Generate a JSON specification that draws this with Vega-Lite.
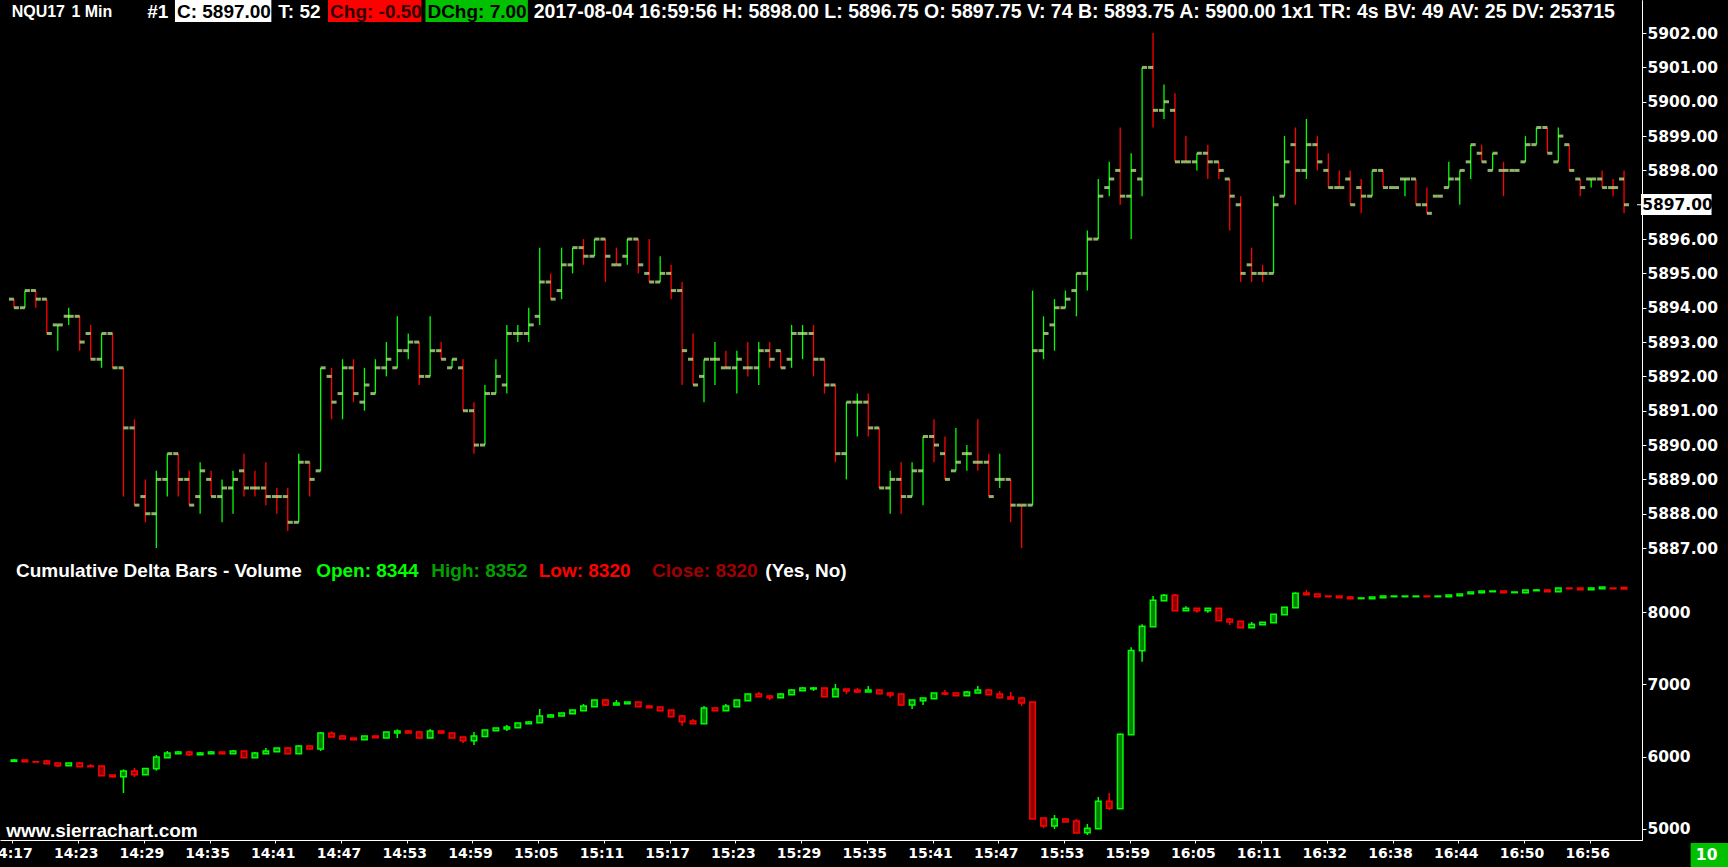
{
"$schema":"https://vega.github.io/schema/vega-lite/v6.json",
"width":1642,"height":840,
"autosize":{"type":"none"},
"padding":{"left":0,"top":0,"right":86,"bottom":27},
"background":"black",
"config":{"view":{"stroke":null},"axis":{"grid":false}},
"data":{"values":[
{"i":0,"t":"14:17","o":5894.25,"h":5894.25,"l":5894,"c":5894,"dir":"dn","dO":5933,"dH":5965,"dL":5933,"dC":5952},
{"i":1,"t":"14:18","o":5894,"h":5894.5,"l":5894,"c":5894.5,"dir":"up","dO":5952,"dH":5952,"dL":5929,"dC":5929},
{"i":2,"t":"14:19","o":5894.5,"h":5894.5,"l":5894,"c":5894.25,"dir":"dn","dO":5929,"dH":5929,"dL":5924,"dC":5924},
{"i":3,"t":"14:20","o":5894.25,"h":5894.25,"l":5893.25,"c":5893.25,"dir":"dn","dO":5938,"dH":5952,"dL":5901,"dC":5901},
{"i":4,"t":"14:21","o":5893.5,"h":5893.5,"l":5892.75,"c":5893.5,"dir":"up","dO":5910,"dH":5910,"dL":5855,"dC":5873},
{"i":5,"t":"14:22","o":5893.75,"h":5894,"l":5893.5,"c":5893.75,"dir":"up","dO":5873,"dH":5910,"dL":5873,"dC":5910},
{"i":6,"t":"14:23","o":5893.75,"h":5893.75,"l":5892.75,"c":5893,"dir":"dn","dO":5910,"dH":5924,"dL":5860,"dC":5860},
{"i":7,"t":"14:24","o":5893.25,"h":5893.5,"l":5892.5,"c":5892.5,"dir":"dn","dO":5869,"dH":5896,"dL":5860,"dC":5860},
{"i":8,"t":"14:25","o":5892.5,"h":5893.25,"l":5892.25,"c":5893.25,"dir":"up","dO":5869,"dH":5869,"dL":5735,"dC":5735},
{"i":9,"t":"14:26","o":5893.25,"h":5893.25,"l":5892.25,"c":5892.25,"dir":"dn","dO":5744,"dH":5744,"dL":5707,"dC":5721},
{"i":10,"t":"14:27","o":5892.25,"h":5892.25,"l":5888.5,"c":5890.5,"dir":"dn","dO":5721,"dH":5823,"dL":5495,"dC":5800},
{"i":11,"t":"14:28","o":5890.5,"h":5890.75,"l":5888.25,"c":5888.25,"dir":"dn","dO":5800,"dH":5841,"dL":5716,"dC":5749},
{"i":12,"t":"14:29","o":5888.5,"h":5889,"l":5887.75,"c":5888,"dir":"dn","dO":5749,"dH":5836,"dL":5749,"dC":5836},
{"i":13,"t":"14:30","o":5888,"h":5889.25,"l":5887,"c":5889,"dir":"up","dO":5832,"dH":6021,"dL":5804,"dC":5994},
{"i":14,"t":"14:31","o":5889,"h":5889.75,"l":5888.5,"c":5889.75,"dir":"up","dO":5985,"dH":6077,"dL":5985,"dC":6049},
{"i":15,"t":"14:32","o":5889.75,"h":5889.75,"l":5888.5,"c":5889,"dir":"dn","dO":6040,"dH":6077,"dL":6040,"dC":6063},
{"i":16,"t":"14:33","o":5889,"h":5889.25,"l":5888.25,"c":5888.25,"dir":"dn","dO":6063,"dH":6077,"dL":6007,"dC":6026},
{"i":17,"t":"14:34","o":5888.5,"h":5889.5,"l":5888,"c":5889.25,"dir":"up","dO":6026,"dH":6063,"dL":6026,"dC":6049},
{"i":18,"t":"14:35","o":5889,"h":5889.25,"l":5888.5,"c":5888.5,"dir":"dn","dO":6040,"dH":6077,"dL":6040,"dC":6063},
{"i":19,"t":"14:36","o":5888.5,"h":5889,"l":5887.75,"c":5888.75,"dir":"up","dO":6063,"dH":6063,"dL":6040,"dC":6040},
{"i":20,"t":"14:37","o":5888.75,"h":5889.25,"l":5888,"c":5889,"dir":"up","dO":6040,"dH":6091,"dL":6040,"dC":6077},
{"i":21,"t":"14:38","o":5889.25,"h":5889.75,"l":5888.5,"c":5888.75,"dir":"dn","dO":6077,"dH":6077,"dL":5985,"dC":5985},
{"i":22,"t":"14:39","o":5888.75,"h":5889.25,"l":5888.5,"c":5888.75,"dir":"dn","dO":5985,"dH":6063,"dL":5985,"dC":6049},
{"i":23,"t":"14:40","o":5888.75,"h":5889.5,"l":5888.25,"c":5888.5,"dir":"dn","dO":6040,"dH":6118,"dL":6040,"dC":6077},
{"i":24,"t":"14:41","o":5888.5,"h":5888.75,"l":5888,"c":5888.5,"dir":"dn","dO":6068,"dH":6118,"dL":6068,"dC":6118},
{"i":25,"t":"14:42","o":5888.5,"h":5888.75,"l":5887.5,"c":5887.75,"dir":"dn","dO":6118,"dH":6132,"dL":6040,"dC":6040},
{"i":26,"t":"14:43","o":5887.75,"h":5889.75,"l":5887.75,"c":5889.5,"dir":"up","dO":6040,"dH":6160,"dL":6040,"dC":6146},
{"i":27,"t":"14:44","o":5889.5,"h":5889.5,"l":5888.5,"c":5889,"dir":"dn","dO":6146,"dH":6160,"dL":6104,"dC":6104},
{"i":28,"t":"14:45","o":5889.25,"h":5892.25,"l":5889.25,"c":5892.25,"dir":"up","dO":6104,"dH":6340,"dL":6077,"dC":6326},
{"i":29,"t":"14:46","o":5892,"h":5892.25,"l":5890.75,"c":5891.25,"dir":"dn","dO":6322,"dH":6349,"dL":6271,"dC":6271},
{"i":30,"t":"14:47","o":5891.5,"h":5892.5,"l":5890.75,"c":5892.25,"dir":"up","dO":6285,"dH":6298,"dL":6243,"dC":6243},
{"i":31,"t":"14:48","o":5892.25,"h":5892.5,"l":5891.25,"c":5891.5,"dir":"dn","dO":6257,"dH":6257,"dL":6234,"dC":6234},
{"i":32,"t":"14:49","o":5891.25,"h":5892.25,"l":5891,"c":5891.75,"dir":"up","dO":6234,"dH":6285,"dL":6234,"dC":6285},
{"i":33,"t":"14:50","o":5891.5,"h":5892.5,"l":5891.5,"c":5892.25,"dir":"up","dO":6285,"dH":6285,"dL":6261,"dC":6261},
{"i":34,"t":"14:51","o":5892.25,"h":5893,"l":5892,"c":5892.5,"dir":"up","dO":6257,"dH":6340,"dL":6257,"dC":6340},
{"i":35,"t":"14:52","o":5892.25,"h":5893.75,"l":5892.25,"c":5892.75,"dir":"up","dO":6326,"dH":6377,"dL":6257,"dC":6354},
{"i":36,"t":"14:53","o":5892.75,"h":5893.25,"l":5892.5,"c":5893,"dir":"up","dO":6354,"dH":6368,"dL":6326,"dC":6326},
{"i":37,"t":"14:54","o":5893,"h":5893,"l":5891.75,"c":5892,"dir":"dn","dO":6340,"dH":6354,"dL":6257,"dC":6257},
{"i":38,"t":"14:55","o":5892,"h":5893.75,"l":5892,"c":5892.75,"dir":"up","dO":6257,"dH":6382,"dL":6257,"dC":6354},
{"i":39,"t":"14:56","o":5892.75,"h":5893,"l":5892.5,"c":5892.5,"dir":"dn","dO":6354,"dH":6354,"dL":6312,"dC":6326},
{"i":40,"t":"14:57","o":5892.25,"h":5892.5,"l":5892.25,"c":5892.5,"dir":"up","dO":6326,"dH":6326,"dL":6257,"dC":6257},
{"i":41,"t":"14:58","o":5892.25,"h":5892.5,"l":5891,"c":5891,"dir":"dn","dO":6271,"dH":6271,"dL":6188,"dC":6220},
{"i":42,"t":"14:59","o":5891,"h":5891.25,"l":5889.75,"c":5890,"dir":"dn","dO":6220,"dH":6340,"dL":6160,"dC":6285},
{"i":43,"t":"15:00","o":5890,"h":5891.75,"l":5890,"c":5891.5,"dir":"up","dO":6276,"dH":6368,"dL":6276,"dC":6368},
{"i":44,"t":"15:01","o":5891.5,"h":5892.5,"l":5891.5,"c":5892,"dir":"up","dO":6359,"dH":6395,"dL":6359,"dC":6395},
{"i":45,"t":"15:02","o":5891.75,"h":5893.5,"l":5891.5,"c":5893.25,"dir":"up","dO":6382,"dH":6437,"dL":6354,"dC":6409},
{"i":46,"t":"15:03","o":5893.25,"h":5893.5,"l":5893,"c":5893.25,"dir":"up","dO":6400,"dH":6465,"dL":6400,"dC":6465},
{"i":47,"t":"15:04","o":5893.25,"h":5894,"l":5893,"c":5893.5,"dir":"up","dO":6456,"dH":6492,"dL":6456,"dC":6479},
{"i":48,"t":"15:05","o":5893.75,"h":5895.75,"l":5893.5,"c":5894.75,"dir":"up","dO":6469,"dH":6659,"dL":6469,"dC":6562},
{"i":49,"t":"15:06","o":5894.75,"h":5895,"l":5894.25,"c":5894.25,"dir":"dn","dO":6548,"dH":6590,"dL":6548,"dC":6576},
{"i":50,"t":"15:07","o":5894.5,"h":5895.75,"l":5894.25,"c":5895.25,"dir":"up","dO":6562,"dH":6604,"dL":6562,"dC":6604},
{"i":51,"t":"15:08","o":5895.25,"h":5895.75,"l":5895,"c":5895.75,"dir":"up","dO":6594,"dH":6645,"dL":6594,"dC":6645},
{"i":52,"t":"15:09","o":5895.75,"h":5896,"l":5895.25,"c":5895.5,"dir":"dn","dO":6636,"dH":6728,"dL":6636,"dC":6700},
{"i":53,"t":"15:10","o":5895.5,"h":5896,"l":5895.5,"c":5896,"dir":"up","dO":6691,"dH":6783,"dL":6691,"dC":6783},
{"i":54,"t":"15:11","o":5896,"h":5896,"l":5894.75,"c":5895.5,"dir":"dn","dO":6783,"dH":6797,"dL":6700,"dC":6714},
{"i":55,"t":"15:12","o":5895.25,"h":5895.75,"l":5895.25,"c":5895.25,"dir":"dn","dO":6714,"dH":6783,"dL":6714,"dC":6742},
{"i":56,"t":"15:13","o":5895.5,"h":5896,"l":5895.25,"c":5896,"dir":"up","dO":6733,"dH":6756,"dL":6733,"dC":6756},
{"i":57,"t":"15:14","o":5896,"h":5896,"l":5895,"c":5895.25,"dir":"dn","dO":6756,"dH":6756,"dL":6691,"dC":6691},
{"i":58,"t":"15:15","o":5895,"h":5896,"l":5894.75,"c":5894.75,"dir":"dn","dO":6700,"dH":6714,"dL":6677,"dC":6677},
{"i":59,"t":"15:16","o":5894.75,"h":5895.5,"l":5894.75,"c":5895,"dir":"up","dO":6686,"dH":6686,"dL":6636,"dC":6636},
{"i":60,"t":"15:17","o":5895,"h":5895.25,"l":5894.25,"c":5894.5,"dir":"dn","dO":6645,"dH":6645,"dL":6553,"dC":6553},
{"i":61,"t":"15:18","o":5894.5,"h":5894.75,"l":5891.75,"c":5892.75,"dir":"dn","dO":6562,"dH":6576,"dL":6428,"dC":6483},
{"i":62,"t":"15:19","o":5892.5,"h":5893.25,"l":5891.75,"c":5891.75,"dir":"dn","dO":6492,"dH":6520,"dL":6456,"dC":6456},
{"i":63,"t":"15:20","o":5892,"h":5892.5,"l":5891.25,"c":5892.5,"dir":"up","dO":6456,"dH":6700,"dL":6456,"dC":6673},
{"i":64,"t":"15:21","o":5892.5,"h":5893,"l":5891.75,"c":5892.5,"dir":"up","dO":6673,"dH":6673,"dL":6636,"dC":6636},
{"i":65,"t":"15:22","o":5892.25,"h":5892.75,"l":5892.25,"c":5892.25,"dir":"dn","dO":6636,"dH":6728,"dL":6636,"dC":6700},
{"i":66,"t":"15:23","o":5892.25,"h":5892.75,"l":5891.5,"c":5892.5,"dir":"up","dO":6691,"dH":6783,"dL":6691,"dC":6783},
{"i":67,"t":"15:24","o":5892.25,"h":5893,"l":5892,"c":5892.25,"dir":"dn","dO":6774,"dH":6866,"dL":6774,"dC":6866},
{"i":68,"t":"15:25","o":5892.25,"h":5893,"l":5891.75,"c":5892.75,"dir":"up","dO":6866,"dH":6894,"dL":6829,"dC":6829},
{"i":69,"t":"15:26","o":5892.75,"h":5893,"l":5892.25,"c":5892.5,"dir":"dn","dO":6839,"dH":6853,"dL":6783,"dC":6816},
{"i":70,"t":"15:27","o":5892.75,"h":5892.75,"l":5892.25,"c":5892.25,"dir":"dn","dO":6816,"dH":6880,"dL":6816,"dC":6866},
{"i":71,"t":"15:28","o":5892.5,"h":5893.5,"l":5892.25,"c":5893.25,"dir":"up","dO":6857,"dH":6936,"dL":6857,"dC":6922},
{"i":72,"t":"15:29","o":5893.25,"h":5893.5,"l":5892.5,"c":5893.25,"dir":"up","dO":6913,"dH":6964,"dL":6913,"dC":6950},
{"i":73,"t":"15:30","o":5893.25,"h":5893.5,"l":5892,"c":5892.5,"dir":"dn","dO":6936,"dH":6964,"dL":6908,"dC":6950},
{"i":74,"t":"15:31","o":5892.5,"h":5892.5,"l":5891.5,"c":5891.75,"dir":"dn","dO":6950,"dH":6950,"dL":6829,"dC":6829},
{"i":75,"t":"15:32","o":5891.75,"h":5891.75,"l":5889.5,"c":5889.75,"dir":"dn","dO":6829,"dH":7005,"dL":6829,"dC":6936},
{"i":76,"t":"15:33","o":5889.75,"h":5891.25,"l":5889,"c":5891.25,"dir":"up","dO":6936,"dH":6936,"dL":6867,"dC":6908},
{"i":77,"t":"15:34","o":5891.25,"h":5891.5,"l":5890.25,"c":5891.25,"dir":"up","dO":6922,"dH":6950,"dL":6880,"dC":6894},
{"i":78,"t":"15:35","o":5891.25,"h":5891.5,"l":5890.25,"c":5890.5,"dir":"dn","dO":6894,"dH":6977,"dL":6894,"dC":6922},
{"i":79,"t":"15:36","o":5890.5,"h":5890.5,"l":5888.75,"c":5888.75,"dir":"dn","dO":6922,"dH":6936,"dL":6871,"dC":6871},
{"i":80,"t":"15:37","o":5888.75,"h":5889.25,"l":5888,"c":5889,"dir":"up","dO":6880,"dH":6894,"dL":6816,"dC":6853},
{"i":81,"t":"15:38","o":5889,"h":5889.5,"l":5888,"c":5888.5,"dir":"dn","dO":6866,"dH":6866,"dL":6700,"dC":6714},
{"i":82,"t":"15:39","o":5888.5,"h":5889.5,"l":5888.5,"c":5889.25,"dir":"up","dO":6714,"dH":6783,"dL":6659,"dC":6783},
{"i":83,"t":"15:40","o":5889.25,"h":5890.25,"l":5888.25,"c":5890.25,"dir":"up","dO":6774,"dH":6811,"dL":6714,"dC":6811},
{"i":84,"t":"15:41","o":5890.25,"h":5890.75,"l":5889.5,"c":5890,"dir":"dn","dO":6802,"dH":6880,"dL":6802,"dC":6880},
{"i":85,"t":"15:42","o":5889.75,"h":5890.25,"l":5889,"c":5889,"dir":"dn","dO":6880,"dH":6922,"dL":6853,"dC":6866},
{"i":86,"t":"15:43","o":5889.25,"h":5890.5,"l":5889.25,"c":5889.5,"dir":"up","dO":6880,"dH":6880,"dL":6843,"dC":6843},
{"i":87,"t":"15:44","o":5889.75,"h":5890,"l":5889.25,"c":5889.75,"dir":"up","dO":6843,"dH":6908,"dL":6843,"dC":6894},
{"i":88,"t":"15:45","o":5889.5,"h":5890.75,"l":5889.25,"c":5889.5,"dir":"dn","dO":6880,"dH":6977,"dL":6880,"dC":6922},
{"i":89,"t":"15:46","o":5889.5,"h":5889.75,"l":5888.5,"c":5888.5,"dir":"dn","dO":6922,"dH":6936,"dL":6857,"dC":6857},
{"i":90,"t":"15:47","o":5889,"h":5889.75,"l":5888.75,"c":5889,"dir":"up","dO":6866,"dH":6908,"dL":6816,"dC":6816},
{"i":91,"t":"15:48","o":5889,"h":5889,"l":5887.75,"c":5888.25,"dir":"dn","dO":6825,"dH":6894,"dL":6797,"dC":6797},
{"i":92,"t":"15:49","o":5888.25,"h":5888.25,"l":5887,"c":5888.25,"dir":"dn","dO":6811,"dH":6825,"dL":6700,"dC":6742},
{"i":93,"t":"15:50","o":5888.25,"h":5894.5,"l":5888.25,"c":5892.75,"dir":"up","dO":6756,"dH":6756,"dL":5134,"dC":5134},
{"i":94,"t":"15:51","o":5892.75,"h":5893.75,"l":5892.5,"c":5893.25,"dir":"up","dO":5148,"dH":5148,"dL":5010,"dC":5037},
{"i":95,"t":"15:52","o":5893.5,"h":5894.25,"l":5892.75,"c":5894,"dir":"up","dO":5037,"dH":5190,"dL":4996,"dC":5134},
{"i":96,"t":"15:53","o":5894,"h":5894.5,"l":5894,"c":5894.25,"dir":"up","dO":5134,"dH":5148,"dL":5093,"dC":5093},
{"i":97,"t":"15:54","o":5894.5,"h":5895,"l":5893.75,"c":5895,"dir":"up","dO":5107,"dH":5134,"dL":4940,"dC":4940},
{"i":98,"t":"15:55","o":5895,"h":5896.25,"l":5894.5,"c":5896,"dir":"up","dO":4945,"dH":5065,"dL":4913,"dC":5005},
{"i":99,"t":"15:56","o":5896,"h":5897.75,"l":5896,"c":5897.25,"dir":"up","dO":5000,"dH":5439,"dL":5000,"dC":5379},
{"i":100,"t":"15:57","o":5897.5,"h":5898.25,"l":5897.25,"c":5897.75,"dir":"up","dO":5379,"dH":5495,"dL":5259,"dC":5282},
{"i":101,"t":"15:58","o":5898,"h":5899.25,"l":5897,"c":5897.25,"dir":"dn","dO":5277,"dH":6321,"dL":5277,"dC":6308},
{"i":102,"t":"15:59","o":5897.25,"h":5898.5,"l":5896,"c":5898,"dir":"up","dO":6303,"dH":7513,"dL":6303,"dC":7471},
{"i":103,"t":"16:00","o":5897.75,"h":5901,"l":5897.25,"c":5901,"dir":"up","dO":7467,"dH":7832,"dL":7314,"dC":7804},
{"i":104,"t":"16:01","o":5901,"h":5902,"l":5899.25,"c":5899.75,"dir":"dn","dO":7800,"dH":8224,"dL":7800,"dC":8164},
{"i":105,"t":"16:02","o":5899.75,"h":5900.5,"l":5899.5,"c":5900,"dir":"up","dO":8160,"dH":8252,"dL":8160,"dC":8234},
{"i":106,"t":"16:03","o":5899.75,"h":5900.25,"l":5898.25,"c":5898.25,"dir":"dn","dO":8234,"dH":8252,"dL":8021,"dC":8021},
{"i":107,"t":"16:04","o":5898.25,"h":5899,"l":5898.25,"c":5898.25,"dir":"dn","dO":8021,"dH":8081,"dL":8021,"dC":8054},
{"i":108,"t":"16:05","o":5898.25,"h":5898.5,"l":5898,"c":5898.5,"dir":"up","dO":8054,"dH":8054,"dL":7993,"dC":8021},
{"i":109,"t":"16:06","o":5898.5,"h":5898.75,"l":5897.75,"c":5898.25,"dir":"dn","dO":8021,"dH":8054,"dL":7993,"dC":8054},
{"i":110,"t":"16:07","o":5898.25,"h":5898.25,"l":5897.75,"c":5898,"dir":"dn","dO":8054,"dH":8054,"dL":7883,"dC":7883},
{"i":111,"t":"16:08","o":5897.75,"h":5897.75,"l":5896.25,"c":5897.25,"dir":"dn","dO":7901,"dH":7920,"dL":7822,"dC":7864},
{"i":112,"t":"16:09","o":5897,"h":5897.25,"l":5894.75,"c":5895,"dir":"dn","dO":7873,"dH":7873,"dL":7786,"dC":7786},
{"i":113,"t":"16:10","o":5895.25,"h":5895.75,"l":5894.75,"c":5895,"dir":"dn","dO":7786,"dH":7864,"dL":7786,"dC":7832},
{"i":114,"t":"16:11","o":5895,"h":5895.25,"l":5894.75,"c":5895,"dir":"dn","dO":7827,"dH":7860,"dL":7827,"dC":7860},
{"i":115,"t":"16:12","o":5895,"h":5897.25,"l":5895,"c":5897,"dir":"up","dO":7855,"dH":7970,"dL":7855,"dC":7970},
{"i":116,"t":"16:13","o":5897.25,"h":5899,"l":5897.25,"c":5898.25,"dir":"up","dO":7965,"dH":8067,"dL":7965,"dC":8067},
{"i":117,"t":"16:14","o":5898.75,"h":5899.25,"l":5897,"c":5898,"dir":"dn","dO":8063,"dH":8275,"dL":8063,"dC":8261},
{"i":118,"t":"16:30","o":5898,"h":5899.5,"l":5897.75,"c":5898.75,"dir":"up","dO":8266,"dH":8308,"dL":8243,"dC":8243},
{"i":119,"t":"16:31","o":5898.75,"h":5899,"l":5898,"c":5898.25,"dir":"dn","dO":8252,"dH":8252,"dL":8215,"dC":8215},
{"i":120,"t":"16:32","o":5898,"h":5898.5,"l":5897.5,"c":5897.5,"dir":"dn","dO":8224,"dH":8224,"dL":8215,"dC":8215},
{"i":121,"t":"16:33","o":5897.5,"h":5898,"l":5897.5,"c":5897.5,"dir":"dn","dO":8224,"dH":8224,"dL":8201,"dC":8201},
{"i":122,"t":"16:34","o":5897.75,"h":5898,"l":5897,"c":5897,"dir":"dn","dO":8211,"dH":8224,"dL":8188,"dC":8188},
{"i":123,"t":"16:35","o":5897.5,"h":5897.75,"l":5896.75,"c":5897.25,"dir":"dn","dO":8188,"dH":8197,"dL":8188,"dC":8197},
{"i":124,"t":"16:36","o":5897.25,"h":5898,"l":5897.25,"c":5898,"dir":"up","dO":8188,"dH":8211,"dL":8188,"dC":8211},
{"i":125,"t":"16:37","o":5898,"h":5898,"l":5897.5,"c":5897.5,"dir":"dn","dO":8201,"dH":8224,"dL":8201,"dC":8224},
{"i":126,"t":"16:38","o":5897.5,"h":5897.5,"l":5897.5,"c":5897.5,"dir":"dn","dO":8215,"dH":8224,"dL":8215,"dC":8224},
{"i":127,"t":"16:39","o":5897.75,"h":5897.75,"l":5897.25,"c":5897.75,"dir":"up","dO":8215,"dH":8224,"dL":8215,"dC":8224},
{"i":128,"t":"16:40","o":5897.75,"h":5897.75,"l":5897,"c":5897,"dir":"dn","dO":8215,"dH":8224,"dL":8215,"dC":8224},
{"i":129,"t":"16:41","o":5897,"h":5897.5,"l":5896.75,"c":5896.75,"dir":"dn","dO":8224,"dH":8224,"dL":8215,"dC":8215},
{"i":130,"t":"16:42","o":5897.25,"h":5897.25,"l":5897.25,"c":5897.25,"dir":"up","dO":8215,"dH":8224,"dL":8215,"dC":8224},
{"i":131,"t":"16:43","o":5897.5,"h":5898.25,"l":5897.5,"c":5897.75,"dir":"up","dO":8215,"dH":8238,"dL":8215,"dC":8238},
{"i":132,"t":"16:44","o":5897.75,"h":5898,"l":5897,"c":5898,"dir":"up","dO":8229,"dH":8252,"dL":8229,"dC":8252},
{"i":133,"t":"16:45","o":5898.25,"h":5898.75,"l":5897.75,"c":5898.75,"dir":"up","dO":8257,"dH":8280,"dL":8257,"dC":8280},
{"i":134,"t":"16:46","o":5898.5,"h":5898.75,"l":5898.25,"c":5898.25,"dir":"dn","dO":8271,"dH":8294,"dL":8271,"dC":8294},
{"i":135,"t":"16:47","o":5898,"h":5898.5,"l":5898,"c":5898.5,"dir":"up","dO":8284,"dH":8294,"dL":8284,"dC":8294},
{"i":136,"t":"16:48","o":5898,"h":5898.25,"l":5897.25,"c":5898,"dir":"dn","dO":8294,"dH":8294,"dL":8271,"dC":8271},
{"i":137,"t":"16:49","o":5898,"h":5898,"l":5898,"c":5898,"dir":"dn","dO":8271,"dH":8280,"dL":8271,"dC":8280},
{"i":138,"t":"16:50","o":5898.25,"h":5899,"l":5898.25,"c":5898.75,"dir":"up","dO":8271,"dH":8308,"dL":8271,"dC":8308},
{"i":139,"t":"16:51","o":5898.75,"h":5899.25,"l":5898.75,"c":5899.25,"dir":"up","dO":8298,"dH":8321,"dL":8298,"dC":8308},
{"i":140,"t":"16:52","o":5899.25,"h":5899.25,"l":5898.5,"c":5898.5,"dir":"dn","dO":8308,"dH":8321,"dL":8284,"dC":8284},
{"i":141,"t":"16:53","o":5898.25,"h":5899.25,"l":5898.25,"c":5899,"dir":"up","dO":8284,"dH":8335,"dL":8284,"dC":8335},
{"i":142,"t":"16:54","o":5898.75,"h":5898.75,"l":5898,"c":5898,"dir":"dn","dO":8335,"dH":8335,"dL":8326,"dC":8326},
{"i":143,"t":"16:55","o":5897.75,"h":5897.75,"l":5897.25,"c":5897.5,"dir":"dn","dO":8335,"dH":8335,"dL":8312,"dC":8312},
{"i":144,"t":"16:56","o":5897.75,"h":5897.75,"l":5897.5,"c":5897.75,"dir":"up","dO":8312,"dH":8335,"dL":8312,"dC":8335},
{"i":145,"t":"16:57","o":5897.75,"h":5898,"l":5897.5,"c":5897.5,"dir":"dn","dO":8326,"dH":8349,"dL":8326,"dC":8349},
{"i":146,"t":"16:58","o":5897.5,"h":5897.75,"l":5897.25,"c":5897.5,"dir":"dn","dO":8335,"dH":8335,"dL":8326,"dC":8326},
{"i":147,"t":"16:59","o":5897.75,"h":5898,"l":5896.75,"c":5897,"dir":"dn","dO":8344,"dH":8352,"dL":8320,"dC":8320}
]},
"layer":[
{"layer":[
 {"mark":{"type":"rule","strokeWidth":1.3},
  "encoding":{
   "x":{"field":"i","type":"quantitative","scale":{"domain":[-0.817,148.183],"nice":false,"zero":false},
        "axis":{"orient":"bottom","title":null,"values":[0,6,12,18,24,30,36,42,48,54,60,66,72,78,84,90,96,102,108,114,120,126,132,138,144],
        "labelExpr":"floor(((datum.value < 118 ? 857 : 872) + datum.value) / 60) + ':' + ((((datum.value < 118 ? 857 : 872) + datum.value) % 60) < 10 ? '0' : '') + (((datum.value < 118 ? 857 : 872) + datum.value) % 60)",
        "labelFlush":false,"labelBound":false,"labelOverlap":false,"labelColor":"white","labelFont":"DejaVu Sans","labelFontWeight":"bold","labelFontSize":14,"labelPadding":3,"labelOffset":-2.5,"tickOffset":-1.5,
        "tickColor":"white","tickSize":3,"domainColor":"white","domainWidth":1,"zindex":0}},
   "y":{"field":"l","type":"quantitative","scale":{"domain":[5878.496,5902.964],"nice":false,"zero":false},
        "axis":{"orient":"right","title":null,"values":[5887,5888,5889,5890,5891,5892,5893,5894,5895,5896,5898,5899,5900,5901,5902],"format":".2f",
        "labelOverlap":false,"labelColor":"white","labelFont":"DejaVu Sans","labelFontWeight":"bold","labelFontSize":15.5,"labelPadding":1,
        "tickColor":"white","tickSize":4,"domainColor":"white","domainWidth":1,"zindex":0}},
   "y2":{"field":"h"},
   "color":{"condition":{"test":"datum.dir == 'up'","value":"#00ff00"},"value":"#ff0000"}}},
 {"mark":{"type":"tick","orient":"horizontal","size":5,"thickness":3,"xOffset":-2.5,"color":"#ccff99"},
  "encoding":{"x":{"field":"i","type":"quantitative"},"y":{"field":"o","type":"quantitative"}}},
 {"mark":{"type":"tick","orient":"horizontal","size":5,"thickness":3,"xOffset":2.5,"color":"#ccff99"},
  "encoding":{"x":{"field":"i","type":"quantitative"},"y":{"field":"c","type":"quantitative"}}},
 {"data":{"values":[{}]},"mark":{"type":"rect","color":"white"},
  "encoding":{"x":{"datum":14.70,"type":"quantitative"},"x2":{"datum":23.50},"y":{"datum":5902.964,"type":"quantitative"},"y2":{"datum":5902.323}}},
 {"data":{"values":[{}]},"mark":{"type":"rect","color":"#ff0000"},
  "encoding":{"x":{"datum":28.67,"type":"quantitative"},"x2":{"datum":37.20},"y":{"datum":5902.964,"type":"quantitative"},"y2":{"datum":5902.323}}},
 {"data":{"values":[{}]},"mark":{"type":"rect","color":"#00c000"},
  "encoding":{"x":{"datum":37.57,"type":"quantitative"},"x2":{"datum":46.92},"y":{"datum":5902.964,"type":"quantitative"},"y2":{"datum":5902.323}}},
 {"data":{"values":[{}]},"mark":{"type":"text","text":"NQU17","align":"left","baseline":"middle","font":"Liberation Sans","fontWeight":"bold","fontSize":16,"color":"white"},
  "encoding":{"x":{"datum":-0.209,"type":"quantitative"},"y":{"datum":5902.62,"type":"quantitative"}}},
 {"data":{"values":[{}]},"mark":{"type":"text","text":"1 Min","align":"left","baseline":"middle","font":"Liberation Sans","fontWeight":"bold","fontSize":16,"color":"white"},
  "encoding":{"x":{"datum":5.25,"type":"quantitative"},"y":{"datum":5902.62,"type":"quantitative"}}},
 {"data":{"values":[{}]},"mark":{"type":"text","text":"#1","align":"left","baseline":"middle","font":"Liberation Sans","fontWeight":"bold","fontSize":19,"color":"white"},
  "encoding":{"x":{"datum":12.159,"type":"quantitative"},"y":{"datum":5902.62,"type":"quantitative"}}},
 {"data":{"values":[{}]},"mark":{"type":"text","text":"C: 5897.00","align":"left","baseline":"middle","font":"Liberation Sans","fontWeight":"bold","fontSize":19,"color":"black"},
  "encoding":{"x":{"datum":14.88,"type":"quantitative"},"y":{"datum":5902.62,"type":"quantitative"}}},
 {"data":{"values":[{}]},"mark":{"type":"text","text":"T: 52","align":"left","baseline":"middle","font":"Liberation Sans","fontWeight":"bold","fontSize":19,"color":"white"},
  "encoding":{"x":{"datum":24.14,"type":"quantitative"},"y":{"datum":5902.62,"type":"quantitative"}}},
 {"data":{"values":[{}]},"mark":{"type":"text","text":"Chg: -0.50","align":"left","baseline":"middle","font":"Liberation Sans","fontWeight":"bold","fontSize":19,"color":"#300000"},
  "encoding":{"x":{"datum":28.86,"type":"quantitative"},"y":{"datum":5902.62,"type":"quantitative"}}},
 {"data":{"values":[{}]},"mark":{"type":"text","text":"DChg: 7.00","align":"left","baseline":"middle","font":"Liberation Sans","fontWeight":"bold","fontSize":19,"color":"black"},
  "encoding":{"x":{"datum":37.75,"type":"quantitative"},"y":{"datum":5902.62,"type":"quantitative"}}},
 {"data":{"values":[{}]},"mark":{"type":"text","text":"2017-08-04 16:59:56 H: 5898.00 L: 5896.75 O: 5897.75 V: 74 B: 5893.75 A: 5900.00 1x1 TR: 4s BV: 49 AV: 25 DV: 253715","align":"left","baseline":"middle","font":"Liberation Sans","fontWeight":"bold","fontSize":19.5,"color":"white"},
  "encoding":{"x":{"datum":47.46,"type":"quantitative"},"y":{"datum":5902.62,"type":"quantitative"}}},
 {"data":{"values":[{}]},"mark":{"type":"rect","color":"white"},
  "encoding":{"x":{"datum":148.55,"type":"quantitative"},"x2":{"datum":154.99},"y":{"datum":5896.70,"type":"quantitative"},"y2":{"datum":5897.31}}},
 {"data":{"values":[{}]},"mark":{"type":"rule","color":"white","strokeWidth":1},
  "encoding":{"x":{"datum":148.183,"type":"quantitative"},"x2":{"datum":148.55},"y":{"datum":5897,"type":"quantitative"}}},
 {"data":{"values":[{}]},"mark":{"type":"text","text":"5897.00","align":"left","baseline":"middle","font":"DejaVu Sans","fontWeight":"bold","fontSize":15.5,"color":"black"},
  "encoding":{"x":{"datum":148.66,"type":"quantitative"},"y":{"datum":5897,"type":"quantitative"}}}
]},
{"layer":[
 {"mark":{"type":"rule","strokeWidth":1.5},
  "encoding":{
   "x":{"field":"i","type":"quantitative"},
   "y":{"field":"dL","type":"quantitative","scale":{"domain":[4843.6,16482.8],"nice":false,"zero":false},
        "axis":{"orient":"right","title":null,"values":[5000,6000,7000,8000],"format":"d",
        "labelOverlap":false,"labelColor":"white","labelFont":"DejaVu Sans","labelFontWeight":"bold","labelFontSize":15.5,"labelPadding":1,
        "tickColor":"white","tickSize":4,"domainColor":"white","domainWidth":1,"zindex":0}},
   "y2":{"field":"dH"},
   "color":{"condition":{"test":"datum.dC >= datum.dO","value":"#00ff00"},"value":"#ff0000"}}},
 {"mark":{"type":"bar","width":5.5,"strokeWidth":1.5},
  "encoding":{
   "x":{"field":"i","type":"quantitative"},
   "y":{"field":"dO","type":"quantitative"},
   "y2":{"field":"dC"},
   "fill":{"condition":{"test":"datum.dC >= datum.dO","value":"#007f00"},"value":"#8b0000"},
   "stroke":{"condition":{"test":"datum.dC >= datum.dO","value":"#00ff00"},"value":"#ff0000"}}},
 {"data":{"values":[{}]},"mark":{"type":"text","text":"Cumulative Delta Bars - Volume","align":"left","baseline":"middle","font":"Liberation Sans","fontWeight":"bold","fontSize":19,"color":"white"},
  "encoding":{"x":{"datum":0.181,"type":"quantitative"},"y":{"datum":8571,"type":"quantitative"}}},
 {"data":{"values":[{}]},"mark":{"type":"text","text":"Open: 8344","align":"left","baseline":"middle","font":"Liberation Sans","fontWeight":"bold","fontSize":19,"color":"#00ff00"},
  "encoding":{"x":{"datum":27.59,"type":"quantitative"},"y":{"datum":8571,"type":"quantitative"}}},
 {"data":{"values":[{}]},"mark":{"type":"text","text":"High: 8352","align":"left","baseline":"middle","font":"Liberation Sans","fontWeight":"bold","fontSize":19,"color":"#00a000"},
  "encoding":{"x":{"datum":38.11,"type":"quantitative"},"y":{"datum":8571,"type":"quantitative"}}},
 {"data":{"values":[{}]},"mark":{"type":"text","text":"Low: 8320","align":"left","baseline":"middle","font":"Liberation Sans","fontWeight":"bold","fontSize":19,"color":"#ff0000"},
  "encoding":{"x":{"datum":47.91,"type":"quantitative"},"y":{"datum":8571,"type":"quantitative"}}},
 {"data":{"values":[{}]},"mark":{"type":"text","text":"Close: 8320","align":"left","baseline":"middle","font":"Liberation Sans","fontWeight":"bold","fontSize":19,"color":"#a00000"},
  "encoding":{"x":{"datum":58.26,"type":"quantitative"},"y":{"datum":8571,"type":"quantitative"}}},
 {"data":{"values":[{}]},"mark":{"type":"text","text":"(Yes, No)","align":"left","baseline":"middle","font":"Liberation Sans","fontWeight":"bold","fontSize":19,"color":"white"},
  "encoding":{"x":{"datum":68.60,"type":"quantitative"},"y":{"datum":8571,"type":"quantitative"}}},
 {"data":{"values":[{}]},"mark":{"type":"text","text":"www.sierrachart.com","align":"left","baseline":"middle","font":"Liberation Sans","fontWeight":"bold","fontSize":19,"color":"white"},
  "encoding":{"x":{"datum":-0.70,"type":"quantitative"},"y":{"datum":4968,"type":"quantitative"}}},
 {"data":{"values":[{}]},"mark":{"type":"rect","color":"#00c000"},
  "encoding":{"x":{"datum":153.08,"type":"quantitative"},"x2":{"datum":156.5},"y":{"datum":4469,"type":"quantitative"},"y2":{"datum":4802}}},
 {"data":{"values":[{}]},"mark":{"type":"text","text":"10","align":"center","baseline":"middle","font":"DejaVu Sans","fontWeight":"bold","fontSize":15.5,"color":"white"},
  "encoding":{"x":{"datum":154.54,"type":"quantitative"},"y":{"datum":4636,"type":"quantitative"}}}
]}
],
"resolve":{"scale":{"y":"independent"},"axis":{"y":"independent"}}
}
